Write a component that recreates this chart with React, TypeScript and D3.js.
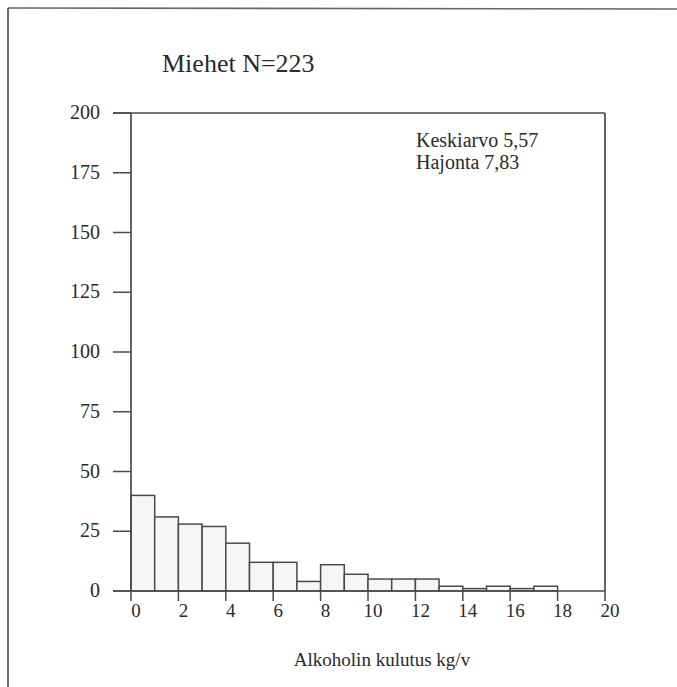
import React from "react";
import * as d3 from "d3";

const binStarts = [0, 1, 2, 3, 4, 5, 6, 7, 8, 9, 10, 11, 12, 13, 14, 15, 16, 17];
const counts = [40, 31, 28, 27, 20, 12, 12, 4, 11, 7, 5, 5, 5, 2, 1, 2, 1, 2];
const xTicks = [0, 2, 4, 6, 8, 10, 12, 14, 16, 18, 20];
const yTicks = [0, 25, 50, 75, 100, 125, 150, 175, 200];
const title = "Miehet N=223";
const notes = ["Keskiarvo 5,57", "Hajonta 7,83"];
const xLabel = "Alkoholin kulutus kg/v";

const W = 677;
const H = 687;
const left = 131;
const right = 605;
const top = 113;
const bottom = 591;

export default function App() {
  const x = d3.scaleLinear().domain([0, 20]).range([left, right]);
  const y = d3.scaleLinear().domain([0, 200]).range([bottom, top]);
  const ink = "#2a2a2a";
  const line = "#4a4a4a";
  const font = "'Liberation Serif', 'Times New Roman', serif";
  return (
    <svg width={W} height={H} style={{ position: "absolute", left: 0, top: 0 }} fontFamily={font}>
      <rect width={W} height={H} fill="#fff" />
      {/* page frame */}
      <line x1={8} y1={8} x2={W} y2={9} stroke="#666" strokeWidth={1.6} />
      <line x1={8} y1={8} x2={8} y2={H} stroke="#444" strokeWidth={1.6} />
      <text x={162} y={72} fontSize={26} fill={ink}>{title}</text>
      {/* bars */}
      {binStarts.map((b, i) => (
        <rect key={i} x={x(b)} y={y(counts[i])} width={x(b + 1) - x(b)} height={y(0) - y(counts[i])}
          fill="#f6f6f6" stroke={line} strokeWidth={1.5} />
      ))}
      {/* box */}
      <line x1={left} y1={top} x2={left} y2={bottom} stroke={line} strokeWidth={1.7} />
      <line x1={113} y1={top} x2={right} y2={top} stroke={line} strokeWidth={1.7} />
      <line x1={right} y1={top} x2={right} y2={bottom} stroke={line} strokeWidth={1.7} />
      <line x1={113} y1={bottom} x2={right} y2={bottom} stroke={line} strokeWidth={1.7} />
      {yTicks.map((t) => (
        <g key={t}>
          <line x1={113} x2={left} y1={y(t)} y2={y(t)} stroke={line} strokeWidth={1.5} />
          <text x={100} y={y(t) + 6} fontSize={20} textAnchor="end" fill={ink}>{t}</text>
        </g>
      ))}
      {xTicks.map((t) => (
        <g key={t}>
          <line x1={x(t)} x2={x(t)} y1={bottom} y2={bottom + 10} stroke={line} strokeWidth={1.5} />
          <text x={x(t) + 5} y={617} fontSize={19} textAnchor="middle" fill={ink}>{t}</text>
        </g>
      ))}
      {notes.map((n, i) => (
        <text key={n} x={416} y={147 + i * 22} fontSize={20} fill={ink}>{n}</text>
      ))}
      <text x={382} y={666} fontSize={19} textAnchor="middle" fill={ink}>{xLabel}</text>
    </svg>
  );
}
